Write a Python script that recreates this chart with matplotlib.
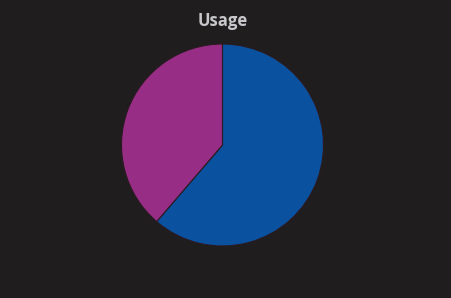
import matplotlib
matplotlib.use("Agg")
import matplotlib.pyplot as plt

labels = ['A', 'B']
values = [61.3, 38.7]
colors = ['#0a519f', '#972d84']

bg = '#1f1d1d'

fig = plt.figure(figsize=(4.52, 2.98), dpi=100, facecolor=bg)
ax = fig.add_axes([0, 0, 1, 1])
ax.set_facecolor(bg)
ax.pie(values, colors=colors, startangle=90, counterclock=False,
	radius=1.0, center=(0, 0),
	wedgeprops=dict(edgecolor='#2a1a22', linewidth=0.8))
# pie centre at (222.5, 145) px, radius ~101 px
r_px = 101.0
w, h = 452.0, 298.0
cx, cy = 222.5, h - 145.0
ax.set_xlim(-cx / r_px, (w - cx) / r_px)
ax.set_ylim(-cy / r_px, (h - cy) / r_px)
ax.set_aspect('auto')
ax.axis('off')

fig.text(222.5 / w, 1 - 21 / h, 'Usage', ha='center', va='center',
	color='#c8c8cc', fontsize=12, fontweight='bold',
	family='Open Sans')

fig.savefig('out.png', dpi=100, facecolor=bg)
